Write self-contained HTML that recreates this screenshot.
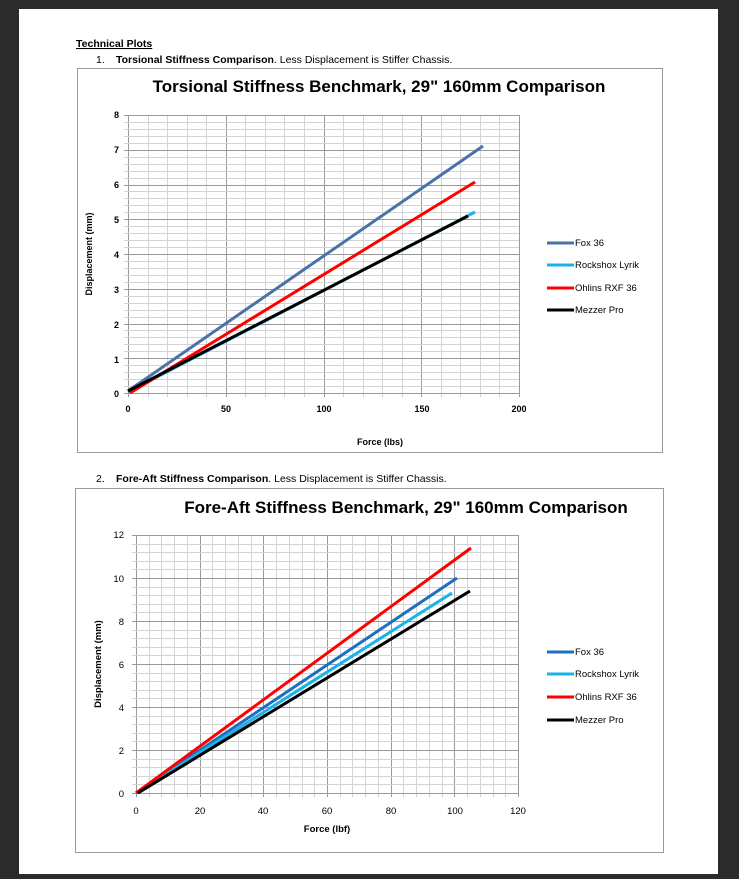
<!DOCTYPE html>
<html><head><style>
body{margin:0;background:#2b2b2b;width:739px;height:874px;overflow:hidden;font-family:"Liberation Sans",sans-serif}
</style></head><body>
<svg width="739" height="874" xmlns="http://www.w3.org/2000/svg" font-family="Liberation Sans, sans-serif">
<rect x="0" y="0" width="739" height="874" fill="#2b2b2b"/>
<rect x="19" y="9" width="699" height="865" fill="#fff"/>
<text x="76" y="47" font-size="10.5" font-weight="bold" text-decoration="underline">Technical Plots</text>
<text x="96" y="63" font-size="10.5"><tspan>1.</tspan><tspan x="116" font-weight="bold">Torsional Stiffness Comparison</tspan><tspan>. Less Displacement is Stiffer Chassis.</tspan></text>
<text x="96" y="482" font-size="10.5"><tspan>2.</tspan><tspan x="116" font-weight="bold">Fore-Aft Stiffness Comparison</tspan><tspan>. Less Displacement is Stiffer Chassis.</tspan></text>
<!-- chart 1 -->
<rect x="77.5" y="68.5" width="585" height="384" fill="#fff" stroke="#999"/>
<text x="379" y="92" font-size="17" font-weight="bold" text-anchor="middle">Torsional Stiffness Benchmark, 29" 160mm Comparison</text>
<g id="g1" stroke="#d0d0d0" stroke-width="1">
</g>
<g font-size="9" font-weight="bold" text-anchor="end">
<text x="119" y="118">8</text><text x="119" y="153">7</text><text x="119" y="188">6</text><text x="119" y="223">5</text><text x="119" y="258">4</text><text x="119" y="293">3</text><text x="119" y="328">2</text><text x="119" y="363">1</text><text x="119" y="397">0</text>
</g>
<g font-size="9" font-weight="bold" text-anchor="middle">
<text x="128" y="412">0</text><text x="226" y="412">50</text><text x="324" y="412">100</text><text x="422" y="412">150</text><text x="519" y="412">200</text>
</g>
<text x="380" y="445" font-size="9" font-weight="bold" text-anchor="middle">Force (lbs)</text>
<text transform="translate(92,254) rotate(-90)" font-size="9" font-weight="bold" text-anchor="middle">Displacement (mm)</text>
<g stroke-width="3" stroke-linecap="butt">
<line x1="128" y1="391" x2="483" y2="146" stroke="#4a72a8"/>
<line x1="128" y1="392" x2="475" y2="212" stroke="#1ab2ea"/>
<line x1="130" y1="393" x2="475" y2="182" stroke="#f00"/>
<line x1="128" y1="391" x2="468" y2="216" stroke="#000"/>
</g>
<g stroke-width="3">
<line x1="547" y1="243" x2="574" y2="243" stroke="#4a72a8"/>
<line x1="547" y1="265" x2="574" y2="265" stroke="#1ab2ea"/>
<line x1="547" y1="288" x2="574" y2="288" stroke="#f00"/>
<line x1="547" y1="310" x2="574" y2="310" stroke="#000"/>
</g>
<g font-size="9.5"><text x="575" y="246">Fox 36</text><text x="575" y="268">Rockshox Lyrik</text><text x="575" y="291">Ohlins RXF 36</text><text x="575" y="313">Mezzer Pro</text></g>
<!-- chart 2 -->
<rect x="75.5" y="488.5" width="588" height="364" fill="#fff" stroke="#999"/>
<text x="406" y="513" font-size="17" font-weight="bold" text-anchor="middle">Fore-Aft Stiffness Benchmark, 29" 160mm Comparison</text>
<g id="g2"></g>
<g font-size="9.5" text-anchor="end">
<text x="124" y="538">12</text><text x="124" y="582">10</text><text x="124" y="625">8</text><text x="124" y="668">6</text><text x="124" y="711">4</text><text x="124" y="754">2</text><text x="124" y="797">0</text>
</g>
<g font-size="9.5" text-anchor="middle">
<text x="136" y="814">0</text><text x="200" y="814">20</text><text x="263" y="814">40</text><text x="327" y="814">60</text><text x="391" y="814">80</text><text x="455" y="814">100</text><text x="518" y="814">120</text>
</g>
<text x="327" y="832" font-size="9.5" font-weight="bold" text-anchor="middle">Force (lbf)</text>
<text transform="translate(101,664) rotate(-90)" font-size="9.5" font-weight="bold" text-anchor="middle">Displacement (mm)</text>
<g stroke-width="3">
<line x1="136" y1="793" x2="457" y2="578" stroke="#1f6fc0"/>
<line x1="136" y1="793" x2="452" y2="593" stroke="#1ab2ea"/>
<line x1="136" y1="793" x2="471" y2="548" stroke="#f00"/>
<line x1="138" y1="793" x2="470" y2="591" stroke="#000"/>
</g>
<g stroke-width="3">
<line x1="547" y1="652" x2="574" y2="652" stroke="#1f6fc0"/>
<line x1="547" y1="674" x2="574" y2="674" stroke="#1ab2ea"/>
<line x1="547" y1="697" x2="574" y2="697" stroke="#f00"/>
<line x1="547" y1="720" x2="574" y2="720" stroke="#000"/>
</g>
<g font-size="9.5"><text x="575" y="655">Fox 36</text><text x="575" y="677">Rockshox Lyrik</text><text x="575" y="700">Ohlins RXF 36</text><text x="575" y="723">Mezzer Pro</text></g>
</svg>
<script>
var NS="http://www.w3.org/2000/svg";
function grid(id,x0,x1,nx,majx,y0,y1,ny,majy){
 var g=document.getElementById(id);var svg=g.ownerSVGElement;
 var gg=document.createElementNS(NS,"g");svg.insertBefore(gg,g);
 function L(a,b,c,d,col){var l=document.createElementNS(NS,"line");l.setAttribute("x1",a);l.setAttribute("y1",b);l.setAttribute("x2",c);l.setAttribute("y2",d);l.setAttribute("stroke",col);l.setAttribute("stroke-width","1");gg.appendChild(l);}
 for(var i=0;i<=nx;i++){var x=Math.round(x0+(x1-x0)*i/nx)+0.5;L(x,y0,x,y1+4,i%majx==0?"#999":"#d4d4d4");}
 for(var j=0;j<=ny;j++){var y=Math.round(y1+(y0-y1)*j/ny)+0.5;L(x0-4,y,x1,y,j%majy==0?"#999":"#d4d4d4");}
}
grid("g1",128,519,20,5,115,393,40,5);
grid("g2",136,518,30,5,535,793,30,5);
</script>
</body></html>
